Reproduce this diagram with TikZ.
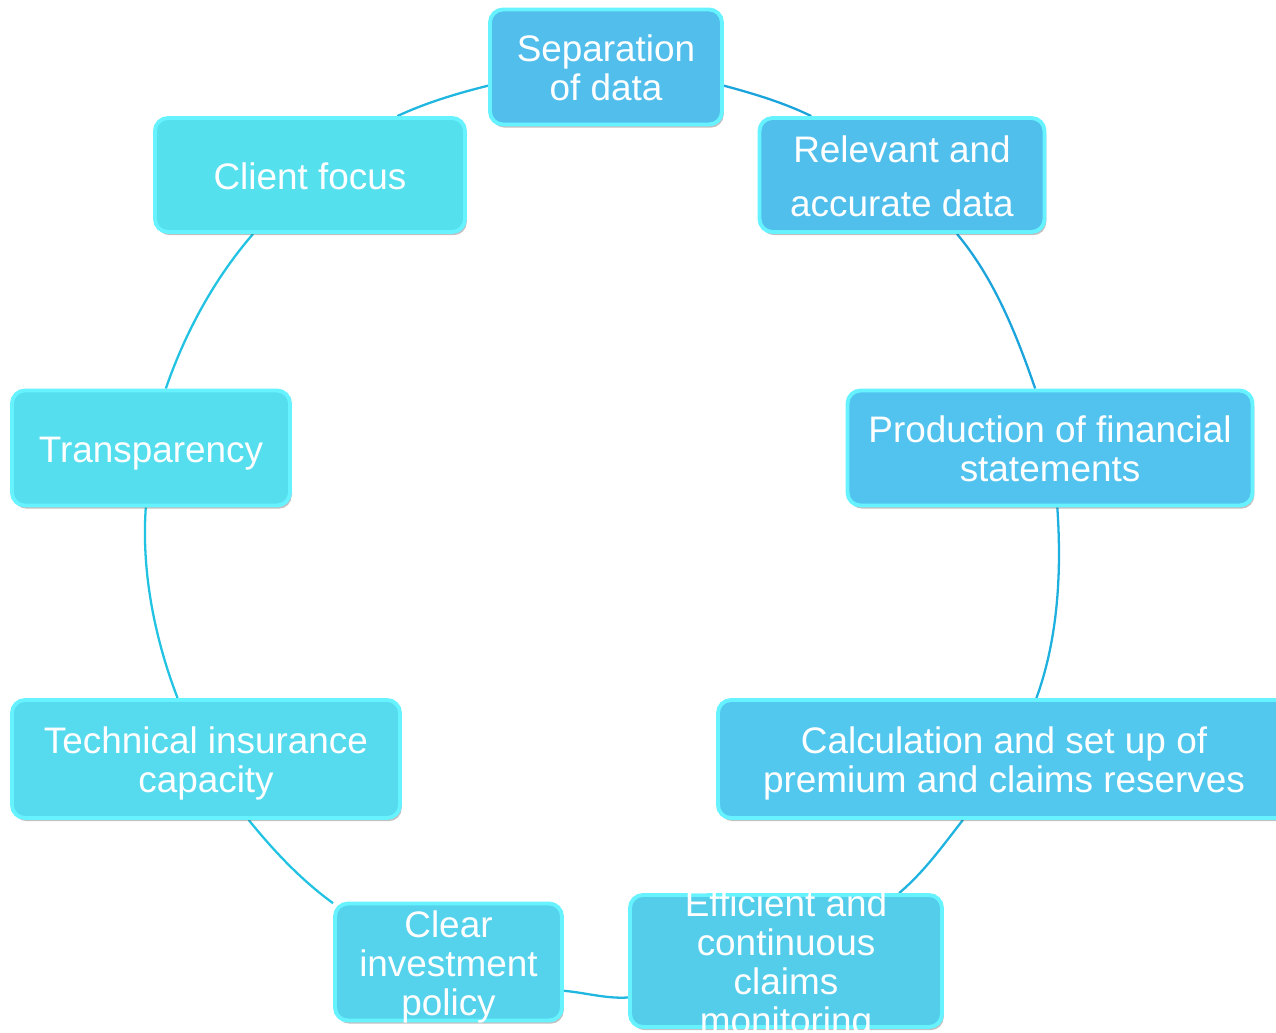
\documentclass[tikz,border=0pt]{standalone}
\usepackage{fontspec}
\setmainfont{Liberation Sans}
\usepackage{tikz}
\usetikzlibrary{positioning,shadows,backgrounds}

\definecolor{ringBlue}{HTML}{1BA3DC}
\definecolor{ringCyan}{HTML}{22C3E2}
\definecolor{glowEdge}{HTML}{66F2FF}
\definecolor{boxA}{HTML}{52BEEC}
\definecolor{boxB}{HTML}{50BFEC}
\definecolor{boxC}{HTML}{52C3EE}
\definecolor{boxD}{HTML}{52C8EE}
\definecolor{boxE}{HTML}{54CDEA}
\definecolor{boxF}{HTML}{55D2EC}
\definecolor{boxG}{HTML}{55DAEE}
\definecolor{boxH}{HTML}{55DEEE}
\definecolor{boxI}{HTML}{55E0EE}

\tikzstyle{goalBox} = [
  shape=rectangle,
  rounded corners=0.13cm,
  draw=glowEdge,
  line width=1.1pt,
  inner sep=0pt,
  drop shadow={shadow xshift=0.5pt,shadow yshift=-0.9pt,opacity=0.35,fill=black!70},
  ]
\tikzstyle{boxText} = [
  text=white,
  align=center,
  inner sep=0pt,
  yshift=-1.8pt,
  font=\fontsize{10.5}{11.1}\selectfont,
  ]
\tikzstyle{ring} = [line width=0.65pt, looseness=0.85]
\newcommand{\goal}[5]{%
  \node[goalBox, fill=#5, minimum width=#3cm, minimum height=#4cm,
        label={[boxText]center:{\strut#2\strut}}] (#1)}

\begin{document}
\begin{tikzpicture}
  \useasboundingbox (0,0) rectangle (12.76,10.32);

  \goal{sep}{Separation\\of data}{2.32}{1.15}{boxA} at (6.06,9.65) {};
  \goal{rel}{Relevant and\\[4.2pt]accurate data}{2.85}{1.14}{boxB} at (9.02,8.57) {};
  \goal{prod}{Production of financial\\statements}{4.05}{1.15}{boxC} at (10.50,5.84) {};
  \goal{calc}{Calculation and set up of\\premium and claims reserves}{5.72}{1.18}{boxD} at (10.04,2.73) {};
  \goal{eff}{Efficient and\\continuous\\claims\\monitoring}{3.12}{1.32}{boxE} at (7.86,0.71) {};
  \goal{clear}{Clear\\investment\\policy}{2.27}{1.17}{boxF} at (4.485,0.70) {};
  \goal{tech}{Technical insurance\\capacity}{3.88}{1.18}{boxG} at (2.06,2.73) {};
  \goal{trans}{Transparency}{2.78}{1.15}{boxH} at (1.51,5.84) {};
  \goal{client}{Client focus}{3.10}{1.14}{boxI} at (3.10,8.57) {};

  % the ring behind the boxes, one arc per pair
  \begin{scope}[on background layer]
    \draw[ring, ringBlue] (sep.-9) to[out=-15,in=154] (rel.147);
    \draw[ring, ringBlue] (rel.-47) to[out=-50,in=109] (prod.104);
    \draw[ring, ringBlue!60!ringCyan] (prod.-83) to[out=-86,in=70] (calc.62);
    \draw[ring, ringBlue!50!ringCyan] (calc.-124) to[out=-128,in=40] (eff.31);
    \draw[ring, ringBlue!40!ringCyan] (eff.-167) to[out=-176,in=-5] (clear.-14);
    \draw[ring, ringCyan] (clear.153) to[out=144,in=-51] (tech.-55);
    \draw[ring, ringCyan] (tech.115) to[out=111,in=-94] (trans.-95);
    \draw[ring, ringCyan] (trans.76) to[out=71,in=-131] (client.-134);
    \draw[ring, ringCyan!60!ringBlue] (client.34) to[out=25,in=-166] (sep.-171);
  \end{scope}

\end{tikzpicture}
\end{document}
